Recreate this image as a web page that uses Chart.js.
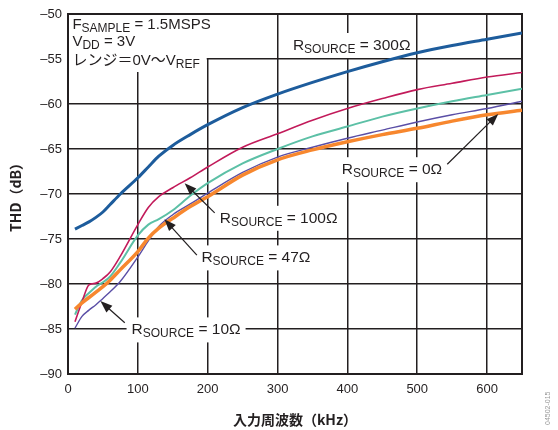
<!DOCTYPE html>
<html>
<head>
<meta charset="utf-8">
<script src="https://cdn.jsdelivr.net/npm/chart.js@4.4.1/dist/chart.umd.min.js"></script>
<style>
  html, body { margin: 0; padding: 0; background: #fff; }
  #wrap { width: 558px; height: 430px; position: relative; }
</style>
</head>
<body>
<div id="wrap"><canvas id="thd"></canvas></div>
<script>
// input frequency (kHz) and THD (dB) per source resistance
const freq    = [10, 20, 30, 40, 50, 60, 75, 100, 115, 130, 150, 175, 200, 250, 300, 350, 400, 450, 500, 550, 600, 650];
const thd300  = [-73.9, -73.5, -73.1, -72.6, -72.0, -71.2, -70.0, -68.2, -67.0, -65.8, -64.6, -63.4, -62.3, -60.4, -58.9, -57.6, -56.4, -55.3, -54.3, -53.5, -52.8, -52.1];
const thd100  = [-84.2, -82.0, -80.1, -79.9, -79.4, -78.7, -76.9, -73.4, -71.5, -70.3, -69.3, -68.2, -67.0, -64.8, -63.3, -61.8, -60.5, -59.4, -58.4, -57.7, -57.0, -56.5];
const thd47   = [-83.4, -81.8, -81.0, -80.3, -79.8, -79.2, -77.6, -74.6, -73.4, -72.8, -71.8, -70.2, -68.8, -66.6, -65.0, -63.6, -62.5, -61.4, -60.5, -59.7, -59.0, -58.3];
const thd10   = [-84.9, -83.6, -82.9, -82.3, -81.6, -80.9, -79.7, -77.0, -75.2, -73.6, -72.3, -71.1, -69.9, -67.6, -65.9, -64.8, -63.8, -62.9, -62.0, -61.2, -60.5, -59.7];
const thd0    = [-82.8, -82.1, -81.5, -80.9, -80.3, -79.6, -78.4, -76.4, -74.9, -73.8, -72.7, -71.4, -70.3, -67.9, -66.2, -65.1, -64.2, -63.4, -62.7, -61.9, -61.2, -60.7];
const xTicks  = [0, 100, 200, 300, 400, 500, 600];
const yTicks  = [-90, -85, -80, -75, -70, -65, -60, -55, -50];

const INK = '#231f20';
const LATIN = "'Liberation Sans', Arial, 'Noto Sans CJK JP', sans-serif";

function pts(ys) {
  return freq.map((f, i) => ({ x: f, y: ys[i] }));
}

// text with a subscript part: parts = [[text, isSub], ...]
function richText(ctx, x, y, parts, size, subSize) {
  let cx = x;
  parts.forEach(([t, sub]) => {
    ctx.font = (sub ? subSize : size) + 'px ' + LATIN;
    ctx.fillText(t, cx, sub ? y + 3 : y);
    cx += ctx.measureText(t).width;
  });
  return cx - x;
}

function arrow(ctx, x1, y1, x2, y2) {
  const a = Math.atan2(y2 - y1, x2 - x1);
  const len = 12, hw = 4.5;
  ctx.strokeStyle = INK;
  ctx.lineWidth = 1.2;
  ctx.beginPath();
  ctx.moveTo(x1, y1);
  ctx.lineTo(x2 - Math.cos(a) * len * 0.8, y2 - Math.sin(a) * len * 0.8);
  ctx.stroke();
  ctx.fillStyle = INK;
  ctx.beginPath();
  ctx.moveTo(x2, y2);
  ctx.lineTo(x2 - Math.cos(a) * len - Math.sin(a) * hw, y2 - Math.sin(a) * len + Math.cos(a) * hw);
  ctx.lineTo(x2 - Math.cos(a) * len + Math.sin(a) * hw, y2 - Math.sin(a) * len - Math.cos(a) * hw);
  ctx.closePath();
  ctx.fill();
}

// callouts, anchored in data units: [label, textX, textBaseline, arrowFrom, arrowTo]
const callouts = [
  ['300Ω', 322, -54.0, null, null],
  ['0Ω',   392, -67.8, [543, -66.7], [616, -61.1]],
  ['100Ω', 217.4, -73.2, [210, -72.1], [167, -68.8]],
  ['47Ω',  191, -77.6, [184.5, -76.8], [138, -72.8]],
  ['10Ω',  91, -85.6, [81.3, -84.3], [46.4, -81.9]]
];

const annotate = {
  id: 'annotate',
  beforeDatasetsDraw(chart) {
    const { ctx, chartArea: ca, scales: { x, y } } = chart;
    ctx.save();
    ctx.fillStyle = '#fff';
    // blank the grid behind the conditions block
    ctx.fillRect(ca.left + 1, ca.top + 1, x.getPixelForValue(200) - ca.left - 2, 57);
    ctx.fillRect(x.getPixelForValue(200) - 2, ca.top + 1, 10, y.getPixelForValue(-55) - ca.top - 2);
    // blank the grid behind each callout
    ctx.textBaseline = 'alphabetic';
    callouts.forEach(([lab, tx, ty]) => {
      ctx.font = '15.5px ' + LATIN;
      let w = ctx.measureText('R').width + ctx.measureText(' = ' + lab).width;
      ctx.font = '12px ' + LATIN;
      w += ctx.measureText('SOURCE').width;
      const px = x.getPixelForValue(tx), py = y.getPixelForValue(ty);
      ctx.fillStyle = '#fff';
      ctx.fillRect(px - 5, py - 17, w + 10, 25);
    });
    // frame
    ctx.strokeStyle = INK;
    ctx.lineWidth = 2;
    ctx.strokeRect(ca.left, ca.top, ca.right - ca.left, ca.bottom - ca.top);
    ctx.restore();
  },
  afterDatasetsDraw(chart) {
    const { ctx, scales: { x, y } } = chart;
    ctx.save();
    ctx.fillStyle = INK;
    ctx.textBaseline = 'alphabetic';
    const lx = x.getPixelForValue(6.3);
    richText(ctx, lx, y.getPixelForValue(-51.7), [['F'], ['SAMPLE', true], [' = 1.5MSPS']], 15, 12);
    richText(ctx, lx, y.getPixelForValue(-53.6), [['V'], ['DD', true], [' = 3V']], 15, 12);
    richText(ctx, lx, y.getPixelForValue(-55.7), [['レンジ＝0V～V'], ['REF', true]], 15, 12);
    callouts.forEach(([lab, tx, ty, from, to]) => {
      ctx.fillStyle = INK;
      richText(ctx, x.getPixelForValue(tx), y.getPixelForValue(ty), [['R'], ['SOURCE', true], [' = ' + lab]], 15.5, 12);
      if (from) {
        arrow(ctx, x.getPixelForValue(from[0]), y.getPixelForValue(from[1]),
                   x.getPixelForValue(to[0]), y.getPixelForValue(to[1]));
      }
    });
    ctx.restore();
  },
  afterDraw(chart) {
    const { ctx } = chart;
    ctx.save();
    ctx.translate(550, 425);
    ctx.rotate(-Math.PI / 2);
    ctx.fillStyle = '#9a9a9a';
    ctx.font = '7px ' + LATIN;
    ctx.fillText('04502-015', 0, 0);
    ctx.restore();
  }
};

const line = (label, ys, color, width) => ({
  label, data: pts(ys), borderColor: color, backgroundColor: color,
  borderWidth: width, pointRadius: 0, cubicInterpolationMode: 'monotone', fill: false
});

new Chart(document.getElementById('thd'), {
  type: 'line',
  data: {
    datasets: [
      line('0Ω', thd0, '#f7872e', 3.5),
      line('300Ω', thd300, '#1d5c9c', 3),
      line('100Ω', thd100, '#c21a5a', 1.6),
      line('47Ω', thd47, '#5cc0a6', 2),
      line('10Ω', thd10, '#5a4ea6', 1.4)
    ]
  },
  options: {
    responsive: true,
    maintainAspectRatio: false,
    animation: false,
    events: [],
    layout: { padding: { top: 14, right: 36, left: 0, bottom: 0 } },
    plugins: { legend: { display: false }, tooltip: { enabled: false } },
    scales: {
      x: {
        type: 'linear', min: 0, max: 650,
        afterFit: s => { s.height = 56; },
        afterBuildTicks: s => { s.ticks = xTicks.map(v => ({ value: v })); },
        ticks: { padding: 8, color: INK, font: { family: LATIN, size: 13 }, maxRotation: 0 },
        grid: { color: INK, lineWidth: 1.5, drawTicks: false },
        border: { display: false },
        title: { display: true, text: '入力周波数（kHz）', color: INK,
                 font: { family: "'Noto Sans CJK JP', 'Liberation Sans', sans-serif", size: 14, weight: 'bold' },
                 padding: { top: 0, bottom: 2 } }
      },
      y: {
        type: 'linear', min: -90, max: -50,
        afterFit: s => { s.width = 68; },
        afterBuildTicks: s => { s.ticks = yTicks.map(v => ({ value: v })); },
        ticks: { padding: 6, color: INK, font: { family: LATIN, size: 13 },
                 callback: v => String(v).replace('-', '–') },
        grid: { color: INK, lineWidth: 1.5, drawTicks: false },
        border: { display: false },
        title: { display: true, text: 'THD（dB）', color: INK,
                 font: { family: "'Noto Sans CJK JP', 'Liberation Sans', sans-serif", size: 14, weight: 'bold' },
                 padding: { top: 7, bottom: 0 } }
      }
    }
  },
  plugins: [annotate]
});
</script>
</body>
</html>
